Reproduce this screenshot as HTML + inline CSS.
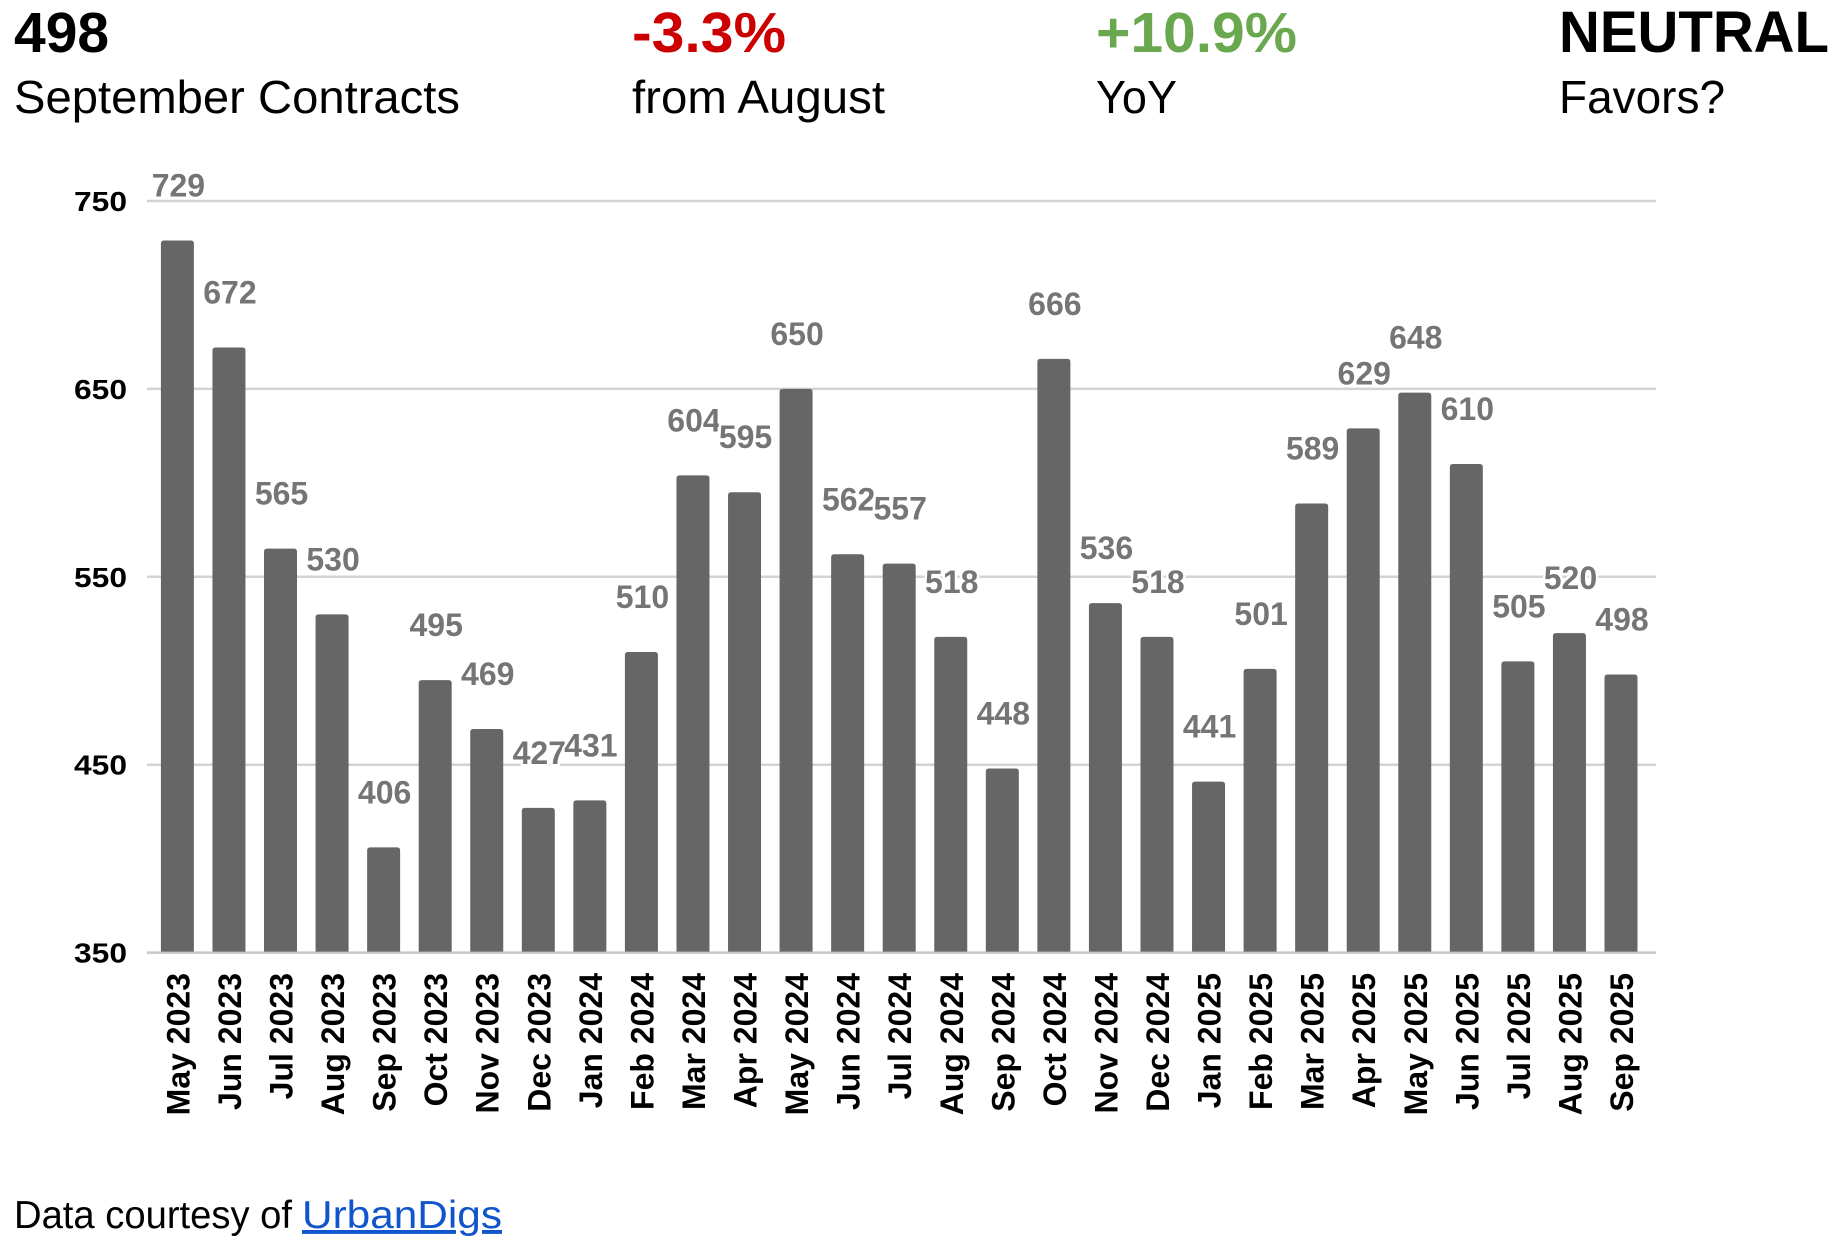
<!DOCTYPE html>
<html><head><meta charset="utf-8"><style>
html,body{margin:0;padding:0;background:#fff;}
svg{display:block;font-family:"Liberation Sans",Arial,sans-serif;}
</style></head><body>
<svg id="chart" width="1842" height="1256" viewBox="0 0 1842 1256" xmlns="http://www.w3.org/2000/svg">
<text x="14" y="52" font-size="57" font-weight="bold" fill="#000">498</text>
<text x="14" y="113" font-size="46" fill="#000" textLength="446" lengthAdjust="spacingAndGlyphs">September Contracts</text>
<text x="632" y="52" font-size="57" font-weight="bold" fill="#cc0000" textLength="154" lengthAdjust="spacingAndGlyphs">-3.3%</text>
<text x="632" y="113" font-size="46" fill="#000" textLength="253" lengthAdjust="spacingAndGlyphs">from August</text>
<text x="1096" y="52" font-size="57" font-weight="bold" fill="#6aa84f" textLength="201" lengthAdjust="spacingAndGlyphs">+10.9%</text>
<text x="1096" y="113" font-size="46" fill="#000" textLength="81" lengthAdjust="spacingAndGlyphs">YoY</text>
<text x="1559" y="52" font-size="58" font-weight="bold" fill="#000" textLength="270" lengthAdjust="spacingAndGlyphs">NEUTRAL</text>
<text x="1559" y="113" font-size="46" fill="#000" textLength="166" lengthAdjust="spacingAndGlyphs">Favors?</text>
<g id="grid"></g>
<g id="bars"></g>
<g id="labels"></g>
<g id="xlabels"></g>
<g id="ylabels"></g>
<text x="14" y="1228" font-size="39" fill="#000" textLength="278" lengthAdjust="spacingAndGlyphs">Data courtesy of</text>
<a><text x="302" y="1228" font-size="39" fill="#1155cc" text-decoration="underline" textLength="200" lengthAdjust="spacingAndGlyphs">UrbanDigs</text></a>
</svg>
<script>
const categories = ["May 2023","Jun 2023","Jul 2023","Aug 2023","Sep 2023","Oct 2023","Nov 2023","Dec 2023","Jan 2024","Feb 2024","Mar 2024","Apr 2024","May 2024","Jun 2024","Jul 2024","Aug 2024","Sep 2024","Oct 2024","Nov 2024","Dec 2024","Jan 2025","Feb 2025","Mar 2025","Apr 2025","May 2025","Jun 2025","Jul 2025","Aug 2025","Sep 2025"];
const values = [729,672,565,530,406,495,469,427,431,510,604,595,650,562,557,518,448,666,536,518,441,501,589,629,648,610,505,520,498];
const yTicks = [350,450,550,650,750];

const NS = "http://www.w3.org/2000/svg";
const yMin = 350, yMax = 750, yTop = 201, yBot = 952.6;
const plotL = 147, plotR = 1656;
const firstC = 177.4, lastC = 1621;
const barW = 33;
function yScale(v){ return yBot - (v - yMin) / (yMax - yMin) * (yBot - yTop); }
function xScale(i){ return firstC + i * (lastC - firstC) / (categories.length - 1); }
function mk(tag, attrs, parent){ const e = document.createElementNS(NS, tag); for (const k in attrs) e.setAttribute(k, attrs[k]); parent.appendChild(e); return e; }

const grid = document.getElementById('grid');
const ylabels = document.getElementById('ylabels');
yTicks.forEach(t => {
  const y = yScale(t);
  const l = mk('line', {x1: plotL, x2: plotR, y1: y, y2: y, stroke: t === yMin ? '#c8c8c8' : '#d3d3d3', 'stroke-width': 2.5}, grid);
  
  
  const tx = mk('text', {x: 127, y: y + 10, 'text-anchor': 'end', 'font-size': 28, 'font-weight': 'bold', fill: '#000', textLength: 53, lengthAdjust: 'spacingAndGlyphs'}, ylabels);
  tx.textContent = t;
  
  
});

const bars = document.getElementById('bars');
const labels = document.getElementById('labels');
const xl = document.getElementById('xlabels');
values.forEach((v, i) => {
  const cx = xScale(i), top = yScale(v);
  const p = mk('path', {d: `M${cx-barW/2},${yBot-1} V${top+3} Q${cx-barW/2},${top} ${cx-barW/2+3},${top} H${cx+barW/2-3} Q${cx+barW/2},${top} ${cx+barW/2},${top+3} V${yBot-1} Z`, fill: '#666666'}, bars);
  
  
  const lb = mk('text', {x: cx + 1, y: top - 44, 'text-anchor': 'middle', 'font-size': 32, 'font-weight': 'bold', fill: '#757575', stroke: '#fff', 'stroke-width': 5, 'paint-order': 'stroke'}, labels);
  lb.textContent = v;
  
  
  const ty = 973;
  const xt = mk('text', {x: cx + 12, y: ty, 'text-anchor': 'end', 'font-size': 32, 'font-weight': 'bold', fill: '#000', transform: `rotate(-90 ${cx + 12} ${ty})`}, xl);
  xt.textContent = categories[i];
  
  
});
</script>
</body></html>
